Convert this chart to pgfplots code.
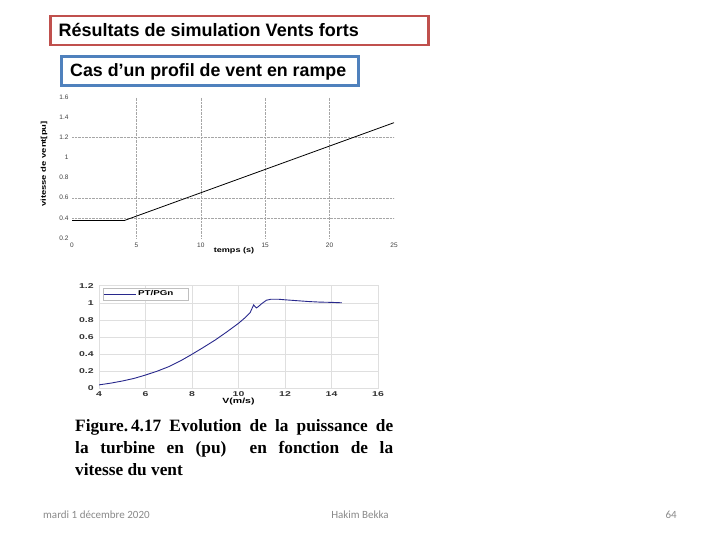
\documentclass[border=0pt]{standalone}
\usepackage{fontspec}
\setmainfont{Liberation Sans}
\newfontfamily\serifb{Liberation Serif}
\newfontfamily\carl{Carlito}
\usepackage{graphicx}
\usepackage{pgfplots}
\pgfplotsset{compat=1.18}
\definecolor{redbox}{RGB}{192,80,77}
\definecolor{bluebox}{RGB}{79,129,189}
\definecolor{curvec}{RGB}{40,40,140}
\definecolor{foot}{RGB}{137,137,137}
\begin{document}
\begin{tikzpicture}[x=1pt,y=1pt]
\fill[white] (0,0) rectangle (720,540);
\useasboundingbox (0,0) rectangle (720,540);
% title boxes
\draw[redbox, line width=2.2pt] (50.5,524) rectangle (428.5,495);
\node[anchor=base west, inner sep=0pt, font=\bfseries\fontsize{18}{18}\selectfont] at (58.5,503) {Résultats de simulation Vents forts};
\draw[bluebox, line width=2.2pt] (61.5,483.5) rectangle (358.5,454.5);
\node[anchor=base west, inner sep=0pt, font=\bfseries\fontsize{17.8}{18}\selectfont] at (70,463) {Cas d’un profil de vent en rampe};

% top chart
\begin{axis}[at={(72pt,302pt)}, anchor=south west, scale only axis,
  width=322pt, height=141pt,
  xmin=0, xmax=25, ymin=0.2, ymax=1.6,
  xtick={0,5,10,15,20,25},
  ytick={0.2,0.4,0.6,0.8,1,1.2,1.4,1.6},
  yticklabel style={/pgf/number format/fixed,/pgf/number format/precision=1},
  xticklabel style={text height=1.2ex, text depth=0pt},
  axis line style={draw=none}, major tick length=0pt,
  tick label style={font=\fontsize{6.5}{7}\selectfont, text=black!75},
  /pgf/number format/assume math mode=true,
  extra x ticks={5,10,15,20}, extra x tick labels={},
  extra y ticks={0.4,0.6,1.2}, extra y tick labels={},
  extra tick style={grid=major, major grid style={densely dotted, gray!70}},
  clip=false]
\addplot[black, line width=0.8pt] coordinates {(0,0.373) (4.05,0.373) (25,1.345)};
\end{axis}
\node[rotate=90, font=\bfseries\fontsize{7}{8}\selectfont, inner sep=0pt] at (44,376) {\scalebox{1.35}[1]{vitesse de vent[pu]}};
\node[font=\bfseries\fontsize{7}{8}\selectfont, inner sep=0pt] at (234,289) {\scalebox{1.3}[1]{temps (s)}};

% bottom chart
\begin{axis}[at={(99pt,151.7pt)}, anchor=south west, scale only axis,
  width=279pt, height=102.6pt,
  xmin=4, xmax=16, ymin=0, ymax=1.2,
  xtick={4,6,8,10,12,14,16},
  ytick={0,0.2,0.4,0.6,0.8,1,1.2},
  yticklabel style={/pgf/number format/fixed,/pgf/number format/precision=1},
  grid=major, grid style={gray!25},
  axis line style={gray!25}, major tick length=0pt,
  tick label style={font=\bfseries\fontsize{7}{8}\selectfont, text=black!80, xscale=1.5},
  /pgf/number format/assume math mode=true,
  xlabel={V(m/s)}, xlabel style={font=\bfseries\fontsize{7.5}{9}\selectfont, xscale=1.4, yshift=6pt},
  legend style={at={(0.014,0.978)}, anchor=north west, draw=gray!50, font=\bfseries\fontsize{7}{8}\selectfont, inner sep=0.5pt, legend cell align=left},
  legend image code/.code={\draw[#1, line width=0.4pt] (0pt,0pt) -- (32pt,0pt);}]
\addplot[curvec, line width=0.9pt] coordinates {
(4,0.04) (4.5,0.06) (5,0.085) (5.5,0.115) (6,0.155) (6.5,0.2) (7,0.253) (7.5,0.32)
(8,0.398) (8.5,0.48) (9,0.565) (9.5,0.66) (10,0.76) (10.3,0.83) (10.5,0.885)
(10.65,0.975) (10.7,0.96) (10.77,0.94) (10.85,0.955) (11,0.99) (11.2,1.03)
(11.4,1.042) (11.7,1.042) (12,1.035) (12.5,1.025) (13,1.015) (13.5,1.008)
(14,1.005) (14.45,1.0)};
\addlegendentry{\scalebox{1.4}[1]{PT/PGn}\hspace*{12pt}}
\end{axis}

% caption
\node[anchor=north west, inner sep=0pt, text width=318pt, align=justify,
  font=\serifb\bfseries\fontsize{17.3}{22}\selectfont] at (75,121)
  {Figure.\,4.17 Evolution de la puissance de\linebreak la turbine en (pu)\ \ en fonction de la\linebreak vitesse du vent};

% footer
\node[anchor=base west, inner sep=0pt, font=\carl\fontsize{11}{13}\selectfont, text=foot] at (43,21) {mardi 1 décembre 2020};
\node[anchor=base, inner sep=0pt, font=\carl\fontsize{11}{13}\selectfont, text=foot] at (360,21) {Hakim Bekka};
\node[anchor=base east, inner sep=0pt, font=\carl\fontsize{11}{13}\selectfont, text=foot] at (677,21) {64};
\end{tikzpicture}
\end{document}
